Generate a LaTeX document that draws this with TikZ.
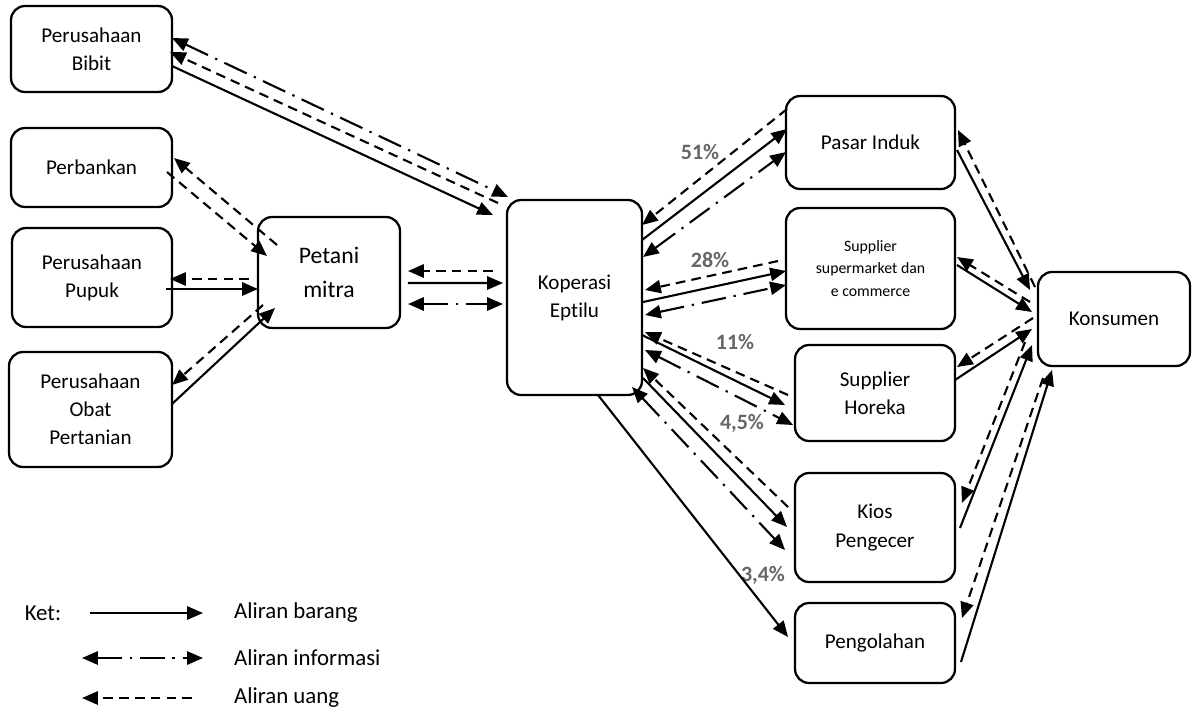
\documentclass[tikz,border=0pt]{standalone}
\usepackage{fontspec}
\setmainfont[Ligatures=NoCommon]{Carlito}
\usetikzlibrary{arrows.meta}

\begin{document}
\begin{tikzpicture}[
  x=0.02cm, y=-0.02cm,
  font=\fontsize{12}{16}\selectfont,
  >={Triangle[length=9pt,width=7.5pt]},
  entity/.style={
    draw,
    line width=1.3pt,
    rounded corners=8pt,
    align=center,
    outer sep=0pt,
    inner sep=2pt
  },
  goods/.style={->, line width=1.2pt},
  info/.style={<->, line width=1.2pt, dash pattern=on 14pt off 4.5pt on 1.3pt off 4.5pt},
  money/.style={->, line width=1.2pt, dash pattern=on 5.5pt off 3.5pt},
  pct/.style={font=\fontsize{12.5}{14}\selectfont\bfseries, text=black!60},
  legend/.style={font=\fontsize{13}{16}\selectfont}
]
\useasboundingbox (0,0) rectangle (1192,717);

% Input suppliers
\node[entity, minimum width=3.22cm, minimum height=1.72cm] (bibit) at (91.5,49) {Perusahaan\\Bibit};
\node[entity, minimum width=3.22cm, minimum height=1.58cm] (bank) at (91.5,167.5) {Perbankan};
\node[entity, minimum width=3.2cm, minimum height=1.98cm] (pupuk) at (92,277.5) {Perusahaan\\Pupuk};
\node[entity, minimum width=3.26cm, minimum height=2.3cm] (obat) at (90.5,409.5) {Perusahaan\\Obat\\Pertanian};

% Farmer and cooperative
\node[entity, minimum width=2.84cm, minimum height=2.22cm, font=\fontsize{13.5}{19}\selectfont] (petani) at (329,272.5) {Petani\\mitra};
\node[entity, minimum width=2.7cm, minimum height=3.9cm] (koperasi) at (574.5,297.5) {Koperasi\\Eptilu};

% Market channels
\node[entity, minimum width=3.38cm, minimum height=1.86cm] (pasar) at (870.5,142.5) {Pasar Induk};
\node[entity, minimum width=3.38cm, minimum height=2.42cm, font=\fontsize{9}{12.7}\selectfont] (smarket) at (870.5,268.5) {Supplier\\supermarket dan\\e commerce};
\node[entity, minimum width=3.2cm, minimum height=1.92cm] (horeka) at (875,393) {Supplier\\Horeka};
\node[entity, minimum width=3.2cm, minimum height=2.18cm] (kios) at (875,527.5) {Kios\\Pengecer};
\node[entity, minimum width=3.2cm, minimum height=1.6cm] (olah) at (875,643) {Pengolahan};
\node[entity, minimum width=3.04cm, minimum height=1.88cm] (kons) at (1114,319) {Konsumen};

% Share of sales
\node[pct] (p51) at (700,152) {51\%};
\node[pct] (p28) at (710,260) {28\%};
\node[pct] (p11) at (735,342) {11\%};
\node[pct] (p45) at (742,423) {4,5\%};
\node[pct] (p34) at (763,575) {3,4\%};

% Bibit - Koperasi
\draw[info] ([shift={(0,-11)}]bibit.east) -- ([shift={(1,-3)}]koperasi.north west);
\draw[money] ([shift={(-9,3)}]koperasi.north west) -- ([shift={(-2,3)}]bibit.east);
\draw[goods] ([shift={(0,17)}]bibit.east) -- ([shift={(-14,15)}]koperasi.north west);

% Perbankan, Pupuk, Obat - Petani
\draw[money] ([shift={(19,28)}]petani.north west) -- ([shift={(2,-9.5)}]bank.east);
\draw[money] ([shift={(-5,4.5)}]bank.east) -- ([shift={(9,39)}]petani.north west);
\draw[money] ([shift={(-9,6.5)}]petani.west) -- ([shift={(-2,1.5)}]pupuk.east);
\draw[goods] ([shift={(-6,11.5)}]pupuk.east) -- ([shift={(0,16.5)}]petani.west);
\draw[goods] ([shift={(0,-5.5)}]obat.east) -- ([shift={(17,-20)}]petani.south west);
\draw[money] ([shift={(5,-23)}]petani.south west) -- ([shift={(0,-24.5)}]obat.east);

% Petani - Koperasi
\draw[money] ([shift={(-14,-26.5)}]koperasi.west) -- ([shift={(8,-1.5)}]petani.east);
\draw[goods] ([shift={(8,10.5)}]petani.east) -- ([shift={(-4,-14.5)}]koperasi.west);
\draw[info] ([shift={(8,31.5)}]petani.east) -- ([shift={(-4,6.5)}]koperasi.west);

% Koperasi - channels
\draw[money] ([shift={(1,-33.5)}]pasar.west) -- ([shift={(0,25)}]koperasi.north east);
\draw[goods] ([shift={(0,40)}]koperasi.north east) -- ([shift={(1,-13.5)}]pasar.west);
\draw[info] ([shift={(1,57)}]koperasi.north east) -- ([shift={(0,9.5)}]pasar.west);

\draw[money] ([shift={(-8,-7.5)}]smarket.west) -- ([shift={(3,-7.5)}]koperasi.east);
\draw[goods] ([shift={(1,4.5)}]koperasi.east) -- ([shift={(0,2.5)}]smarket.west);
\draw[info] ([shift={(3,17.5)}]koperasi.east) -- ([shift={(0,16.5)}]smarket.west);

\draw[money] ([shift={(-7,2)}]horeka.west) -- ([shift={(3,34.5)}]koperasi.east);
\draw[goods] ([shift={(0,37.5)}]koperasi.east) -- ([shift={(-10,12)}]horeka.west);
\draw[info] ([shift={(3,52.5)}]koperasi.east) -- ([shift={(-2,32)}]horeka.west);

\draw[money] ([shift={(-7,-20.5)}]kios.west) -- ([shift={(1,-27)}]koperasi.south east);
\draw[goods] ([shift={(1,-17)}]koperasi.south east) -- ([shift={(-8,-0.5)}]kios.west);
\draw[info] ([shift={(-10,-8)}]koperasi.south east) -- ([shift={(-10,22.5)}]kios.west);

\draw[goods] ([shift={(23.5,0)}]koperasi.south) -- ([shift={(-7,-6)}]olah.west);

% Channels - Konsumen
\draw[goods] ([shift={(2,7.5)}]pasar.east) -- ([shift={(-8,-29)}]kons.west);
\draw[money] ([shift={(-3,-32)}]kons.west) -- ([shift={(3,-12.5)}]pasar.east);
\draw[goods] ([shift={(2,-3.5)}]smarket.east) -- ([shift={(-6,-7)}]kons.west);
\draw[money] ([shift={(-8,-17)}]kons.west) -- ([shift={(2,-11.5)}]smarket.east);
\draw[goods] ([shift={(0,-13)}]horeka.east) -- ([shift={(-6,10)}]kons.west);
\draw[money] ([shift={(-5,-1)}]kons.west) -- ([shift={(2,-26)}]horeka.east);
\draw[goods] ([shift={(5,0.5)}]kios.east) -- ([shift={(-6,26)}]kons.west);
\draw[money] ([shift={(-13,23)}]kons.west) -- ([shift={(7,-24.5)}]kios.east);
\draw[goods] ([shift={(6,19)}]olah.east) -- ([shift={(14,4)}]kons.south west);
\draw[money] ([shift={(5,12)}]kons.south west) -- ([shift={(7,-25)}]olah.east);

% Legend
\node[legend] (ket) at (43,613) {Ket:};
\coordinate (ga) at (90,613);
\coordinate (gb) at (203,613);
\coordinate (ia) at (82,658);
\coordinate (ib) at (203,658);
\coordinate (ua) at (192,698);
\coordinate (ub) at (82,698);
\draw[goods] (ga) -- (gb);
\draw[info] (ia) -- (ib);
\draw[money] (ua) -- (ub);
\node[legend, anchor=west] (lbarang) at (228,613) {Aliran barang};
\node[legend, anchor=west] (linfo) at (228,658) {Aliran informasi};
\node[legend, anchor=west] (luang) at (228,698) {Aliran uang};

\end{tikzpicture}
\end{document}
